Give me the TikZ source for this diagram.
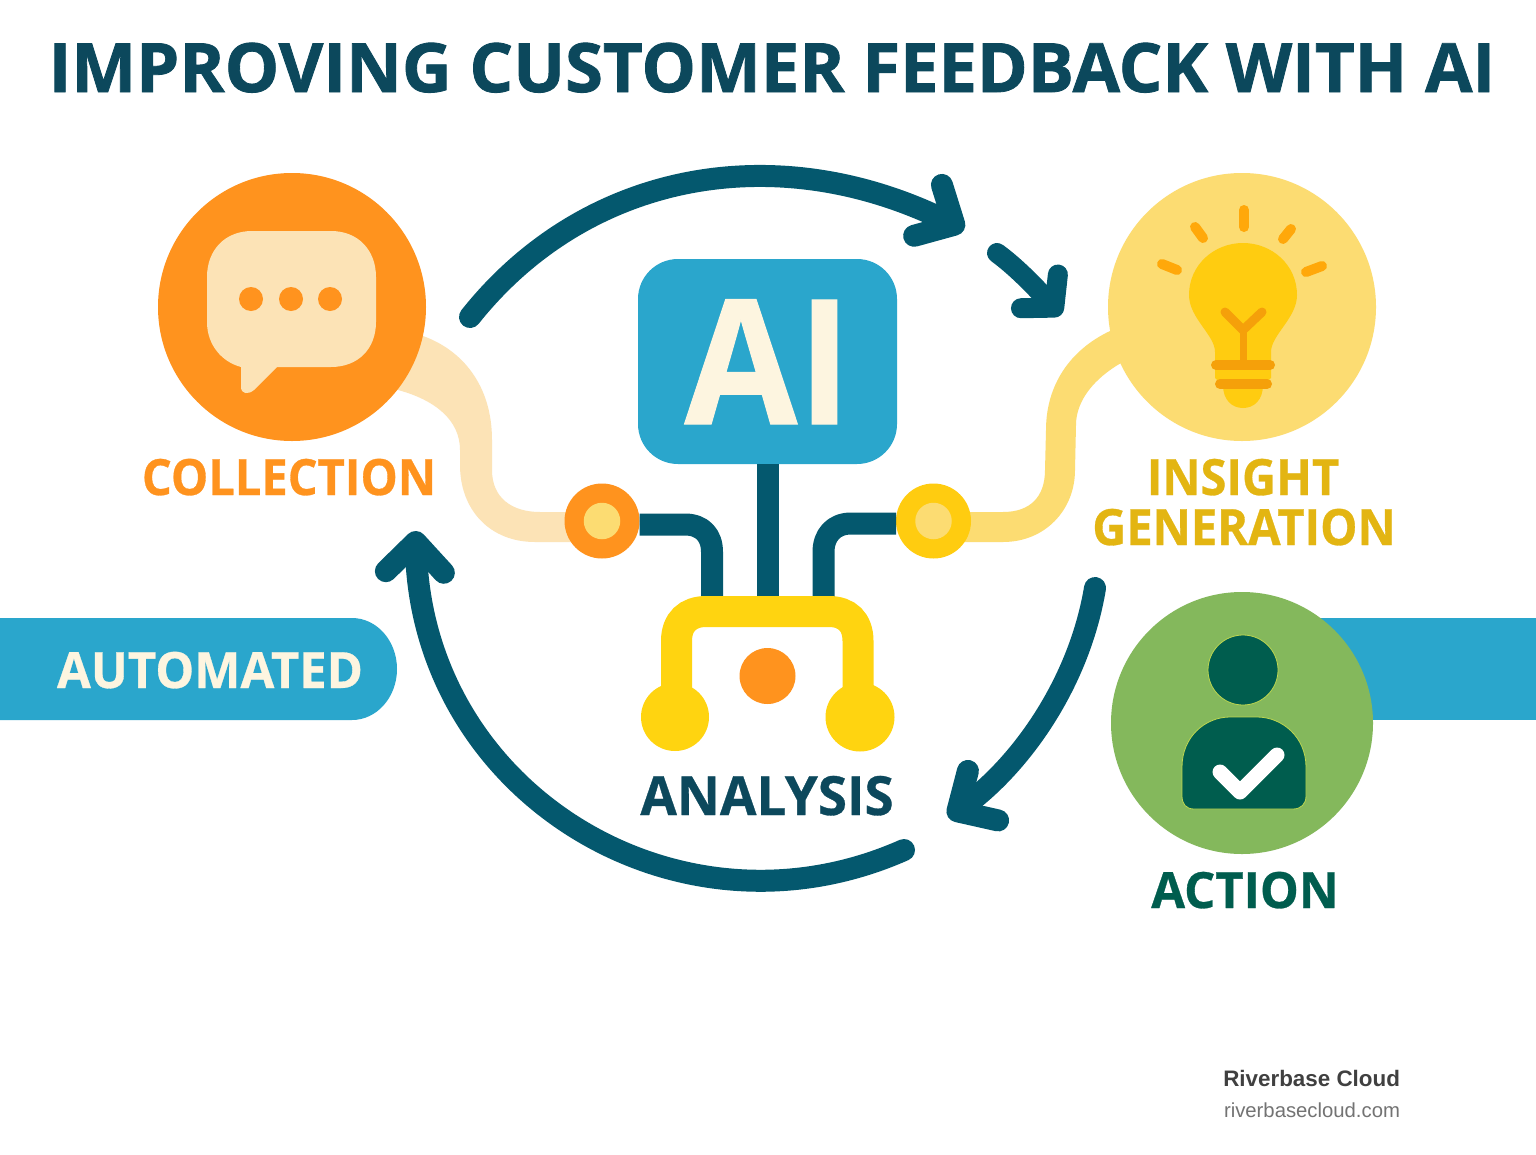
\documentclass[tikz,border=0pt]{standalone}
\usepackage{xcolor}
\usepackage{fontspec}
\setmainfont{Open Sans}
\newfontfamily\titlefont{Open Sans}[BoldFeatures={FakeStretch=1.01,FakeBold=1.2}]
\newfontfamily\labelfont{Open Sans}[BoldFeatures={FakeStretch=0.94,FakeBold=0.6}]
\newfontfamily\widelabelfont{Open Sans}[BoldFeatures={FakeStretch=0.98,FakeBold=0.6}]
\newfontfamily\brandfont{Liberation Sans}
\usetikzlibrary{arrows.meta}
\usetikzlibrary{bending}
\usetikzlibrary{backgrounds}
\begin{document}
\begin{tikzpicture}[x=1pt,y=-1pt,
  bigdisc/.style={circle,inner sep=0pt,outer sep=0pt,minimum size=268pt},
  hubdisc/.style={circle,inner sep=0pt,outer sep=0pt,minimum size=75pt},
  hubeye/.style={circle,inner sep=0pt,outer sep=0pt,minimum size=36.5pt},
  smalldot/.style={circle,inner sep=0pt,outer sep=0pt,minimum size=24pt,fill=orangeColor},
  capword/.style={inner sep=0pt,outer sep=0pt,anchor=base,font=\labelfont\bfseries\fontsize{50}{50}\selectfont},
  bigword/.style={inner sep=0pt,outer sep=0pt,anchor=base,font=\widelabelfont\bfseries\fontsize{54}{54}\selectfont},
  wire/.style={draw=tealColor,line width=22pt,line join=round},
  flowarrow/.style={draw=tealColor,line width=22pt,line cap=round,-{Straight Barb[round,flex=0,length=30pt,width=58pt]}},
  shortarrow/.style={draw=tealColor,line width=20pt,line cap=round,-{Straight Barb[round,flex=0,length=22pt,width=50pt]}},
  ray/.style={draw=rayColor,line width=10pt,line cap=round},
  figpart/.style={fill=pineColor,draw=limeColor,line width=0.8pt}]
\definecolor{fillColor}{RGB}{255,255,255}
\definecolor{orangeColor}{RGB}{255,147,30}
\definecolor{creamColor}{RGB}{252,227,182}
\definecolor{sunColor}{RGB}{252,220,114}
\definecolor{goldColor}{RGB}{255,204,16}
\definecolor{brightColor}{RGB}{255,212,16}
\definecolor{rayColor}{RGB}{255,168,10}
\definecolor{stemColor}{RGB}{245,160,10}
\definecolor{tealColor}{RGB}{4,88,110}
\definecolor{titleColor}{RGB}{12,72,92}
\definecolor{blueColor}{RGB}{42,166,204}
\definecolor{ivoryColor}{RGB}{253,245,224}
\definecolor{leafColor}{RGB}{132,184,92}
\definecolor{pineColor}{RGB}{0,93,78}
\definecolor{limeColor}{RGB}{190,215,80}
\definecolor{insightColor}{RGB}{227,181,18}
\path[use as bounding box] (0,0) rectangle (1536,1154);

\node[inner sep=0pt,outer sep=0pt,anchor=base,text=titleColor,font=\titlefont\bfseries\fontsize{68}{68}\selectfont] (title) at (772,92) {IMPROVING CUSTOMER FEEDBACK WITH AI};

\path[fill=blueColor] (0,618) -- (352,618) arc[start angle=-90,end angle=90,x radius=45,y radius=51] -- (0,720) -- cycle;
\path[fill=blueColor] (1300,618) rectangle (1536,720);
\node[bigword,font=\widelabelfont\bfseries\fontsize{50}{50}\selectfont,text=ivoryColor] (automated) at (210,688) {AUTOMATED};

\node[bigdisc,fill=orangeColor] (collection) at (292,307) {};
\node[bigdisc,fill=sunColor] (insight) at (1242,307) {};
\node[bigdisc,fill=leafColor,minimum size=262pt] (action) at (1242,723) {};
\node[hubdisc,fill=orangeColor] (lefthub) at (602,521) {};
\node[hubdisc,fill=goldColor] (righthub) at (933.5,521) {};
\node[hubeye,fill=sunColor] (lefteye) at (lefthub) {};
\node[hubeye,fill=sunColor] (righteye) at (righthub) {};
\node[inner sep=0pt,outer sep=0pt,minimum width=259pt,minimum height=205pt,rounded corners=40pt,fill=blueColor] (aibox) at (767.5,361.5) {};
\node[inner sep=0pt,outer sep=0pt,anchor=base,text=ivoryColor,font=\labelfont\bfseries\fontsize{174}{174}\selectfont] (ailabel) at (768,424) {AI};

\coordinate (bracketleft) at (712,600);
\coordinate (bracketmid) at (767.5,600);
\coordinate (bracketright) at (823.5,600);

\begin{scope}[on background layer]
\path[fill=fillColor] (0,0) rectangle (1536,1154);
\path[fill=creamColor] (collection.center) -- (423,336) .. controls (462,350) and (492,385) .. (492,440) -- (492,470) .. controls (492,498) and (512,512) .. (540,512) -- (602,512) -- (lefthub.center) -- (602,542) -- (535,542) .. controls (490,542) and (460,510) .. (460,465) -- (460,450) .. controls (460,420) and (435,400) .. (398,390) -- cycle;
\path[fill=sunColor] (insight.center) -- (1110,331) .. controls (1070,350) and (1046,385) .. (1046,430) -- (1045,470) .. controls (1045,497) and (1030,512) .. (1003,512) -- (933,512) -- (righthub.center) -- (933,542) -- (1003,542) .. controls (1045,542) and (1075,510) .. (1075,470) -- (1076,425) .. controls (1076,400) and (1095,378) .. (1121,363) -- cycle;
\end{scope}

\draw[wire] (lefthub.east |- 0,524.5) -- (685,524.5) .. controls (702,524.5) and (712,535) .. (712,552) -- (bracketleft);
\draw[wire] (righthub.west |- 0,523.5) -- (851,523.5) .. controls (834,523.5) and (823.5,535) .. (823.5,552) -- (bracketright);
\draw[wire] (aibox.south) -- (bracketmid);

\draw[draw=brightColor,line width=31pt] (676.5,705) -- (676.5,641) .. controls (676.5,622) and (688,611.5) .. (706,611.5) -- (829,611.5) .. controls (847,611.5) and (858,622) .. (858,641) -- (858,705);
\node[circle,inner sep=0pt,minimum size=68pt,fill=brightColor] (leftball) at (675,717) {};
\node[circle,inner sep=0pt,minimum size=69pt,fill=brightColor] (rightball) at (860,717) {};
\node[circle,inner sep=0pt,minimum size=56pt,fill=orangeColor] (centerdot) at (767.5,676) {};

\path[fill=creamColor] (252,231) -- (331,231) .. controls (358,231) and (376,250) .. (376,277) -- (376,322) .. controls (376,349) and (358,367) .. (331,367) -- (277,367) -- (254,390) .. controls (248,395) and (241,394) .. (241,387) -- (241,367) .. controls (222,362) and (207,345) .. (207,322) -- (207,277) .. controls (207,250) and (225,231) .. (252,231) -- cycle;
\node[smalldot] (dotone) at (251,299) {};
\node[smalldot] (dottwo) at (291,299) {};
\node[smalldot] (dotthree) at (330,299) {};

\path[fill=goldColor] (1243,243) .. controls (1272,243) and (1297,265) .. (1297,295) .. controls (1297,318) and (1271,335) .. (1271,352) -- (1271,378) -- (1263,385) .. controls (1263,400) and (1254,408) .. (1243,408) .. controls (1232,408) and (1223,400) .. (1223,385) -- (1215,378) -- (1215,352) .. controls (1215,335) and (1189,318) .. (1189,295) .. controls (1189,265) and (1214,243) .. (1243,243) -- cycle;
\draw[draw=stemColor,line width=7pt] (1243,362) -- (1243,330);
\draw[draw=stemColor,line width=9pt,line cap=round,line join=round] (1225,312) -- (1243,330) -- (1262,312);
\draw[draw=stemColor,line width=10pt,line cap=round] (1216,365) -- (1270,365);
\draw[draw=stemColor,line width=10pt,line cap=round] (1220,384) -- (1267,384);
\draw[ray] (1244,210) -- (1244,227);
\draw[ray] (1195,227) -- (1203,238);
\draw[ray] (1291,229) -- (1283,239);
\draw[ray] (1162,264) -- (1177,270);
\draw[ray] (1322,266) -- (1306,272);

\node[circle,inner sep=0pt,minimum size=70pt,figpart] (head) at (1243,670) {};
\path[figpart] (1194,809) .. controls (1186,809) and (1182,804) .. (1182,796) -- (1182,767) .. controls (1182,737) and (1205,717) .. (1230,717) -- (1257,717) .. controls (1282,717) and (1306,737) .. (1306,767) -- (1306,796) .. controls (1306,804) and (1301,809) .. (1293,809) -- cycle;
\draw[draw=white,line width=15pt,line join=round,line cap=round] (1220,772) -- (1240,792) -- (1277,755);

\coordinate (topstart) at (470,317);
\coordinate (toptip) at (964,230);
\coordinate (smallstart) at (997,253);
\coordinate (smalltip) at (1061,315);
\coordinate (rightstart) at (1095,588);
\coordinate (righttip) at (948,817);
\coordinate (leftstart) at (904,850);
\coordinate (lefttip) at (416,531);
\draw[flowarrow] (topstart) .. controls (590,166) and (790,135) .. (toptip);
\draw[shortarrow] (smallstart) .. controls (1020,270) and (1040,292) .. (smalltip);
\draw[flowarrow] (rightstart) .. controls (1078,690) and (1012,778) .. (righttip);
\draw[flowarrow] (leftstart) .. controls (672,953) and (409,785) .. (lefttip);

\node[capword,text=orangeColor] (collectionlabel) at (289,495) {COLLECTION};
\node[capword,text=insightColor] (insightlabel) at (1243,495) {INSIGHT};
\node[capword,text=insightColor] (generationlabel) at (1244,545) {GENERATION};
\node[bigword,text=titleColor] (analysislabel) at (767,815) {ANALYSIS};
\node[bigword,font=\widelabelfont\bfseries\fontsize{50}{50}\selectfont,text=pineColor] (actionlabel) at (1245,908) {ACTION};

\node[inner sep=0pt,outer sep=0pt,anchor=base east,text=black!75,font=\brandfont\bfseries\fontsize{22.4}{23}\selectfont] (brandname) at (1400,1086) {Riverbase Cloud};
\node[inner sep=0pt,outer sep=0pt,anchor=base east,text=black!55,font=\brandfont\fontsize{20.3}{21}\selectfont] (brandurl) at (1400,1117) {riverbasecloud.com};
\end{tikzpicture}
\end{document}
